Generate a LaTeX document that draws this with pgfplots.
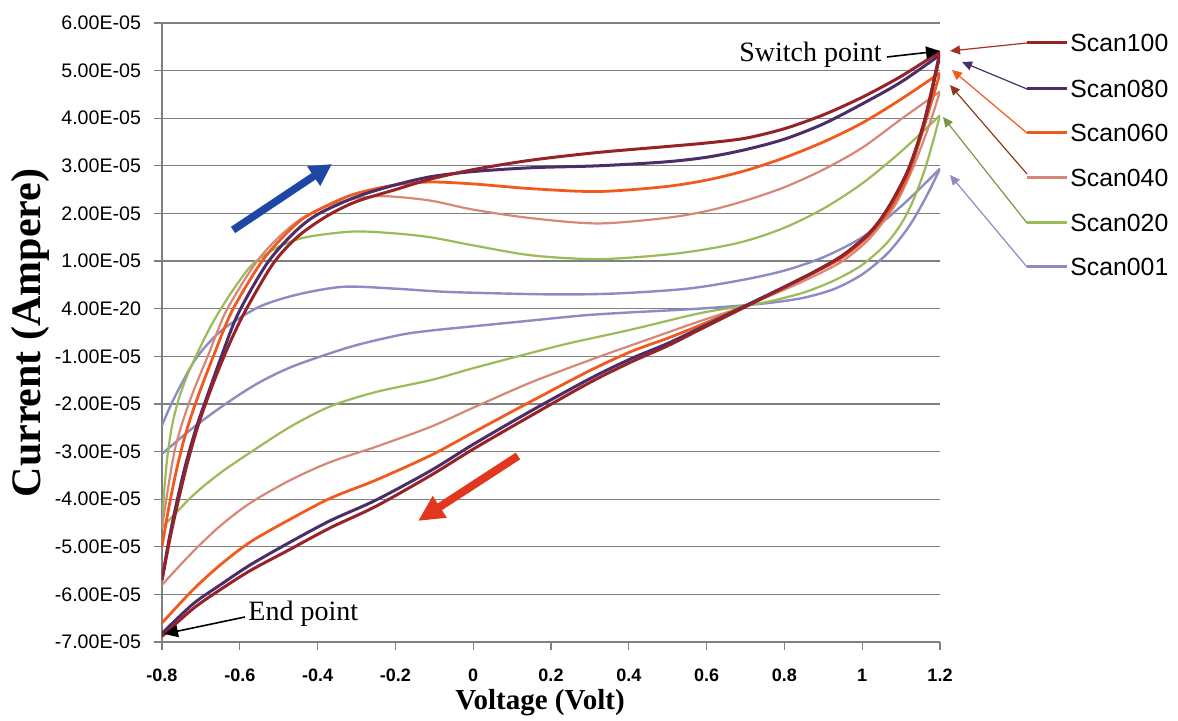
\documentclass[border=0pt]{standalone}
\usepackage{fontspec}
\setmainfont{Liberation Serif}
\newfontfamily\arial{Liberation Sans}
\usepackage{pgfplots}
\pgfplotsset{compat=1.18}
\usetikzlibrary{arrows.meta}

\definecolor{c100}{RGB}{150,35,40}
\definecolor{c080}{RGB}{75,45,105}
\definecolor{c060}{RGB}{240,90,30}
\definecolor{c040}{RGB}{215,135,120}
\definecolor{c020}{RGB}{155,187,89}
\definecolor{c001}{RGB}{140,140,195}
\definecolor{gridgray}{RGB}{128,128,128}
\definecolor{bluearrow}{RGB}{30,70,165}
\definecolor{redarrow}{RGB}{225,55,30}
\definecolor{brownarrow}{RGB}{140,60,30}

\begin{document}
\begin{tikzpicture}
\path[use as bounding box] (-81pt,-39.5pt) rectangle (508pt,321pt);
\begin{axis}[
  at={(0,0)}, anchor=south west,
  scale only axis, width=389pt, height=309.5pt,
  xmin=-0.8, xmax=1.2, ymin=-7e-5, ymax=6e-5,
  axis x line*=bottom, axis y line*=left,
  axis line style={gridgray, line width=0.6pt},
  xtick={-0.8,-0.6,-0.4,-0.2,0,0.2,0.4,0.6,0.8,1,1.2},
  xticklabels={-0.8,-0.6,-0.4,-0.2,0,0.2,0.4,0.6,0.8,1,1.2},
  ytick={-7e-5,-6e-5,-5e-5,-4e-5,-3e-5,-2e-5,-1e-5,0,1e-5,2e-5,3e-5,4e-5,5e-5,6e-5},
  yticklabels={-7.00E-05,-6.00E-05,-5.00E-05,-4.00E-05,-3.00E-05,-2.00E-05,-1.00E-05,4.00E-20,1.00E-05,2.00E-05,3.00E-05,4.00E-05,5.00E-05,6.00E-05},
  scaled y ticks=false,
  ymajorgrids, grid style={gridgray, line width=0.6pt},
  tick align=outside, major tick length=4pt,
  tick style={gridgray, line width=0.6pt},
  xticklabel style={font=\arial\bfseries\fontsize{9}{10}\selectfont, yshift=-6pt},
  yticklabel style={font=\arial\fontsize{9.8}{11}\selectfont, xshift=-3pt},
]
% Scan001: forward sweep, then reverse sweep
\addplot[c001, line width=1.2pt, smooth] coordinates {
(-0.8,-2.45e-5) (-0.77,-1.9e-5) (-0.72,-1.14e-5) (-0.68,-0.72e-5) (-0.633,-0.37e-5)
(-0.547,0.05e-5) (-0.45,0.3e-5) (-0.333,0.46e-5) (-0.2,0.42e-5) (-0.06,0.35e-5)
(0.2,0.3e-5) (0.37,0.32e-5) (0.55,0.42e-5) (0.69,0.6e-5) (0.8,0.8e-5)
(0.9,1.08e-5) (1.0,1.5e-5) (1.1,2.15e-5) (1.2,2.94e-5)};
\addplot[c001, line width=1.2pt, smooth] coordinates {
(1.2,2.94e-5) (1.18,2.6e-5) (1.16,2.28e-5) (1.13,1.85e-5) (1.1,1.5e-5) (1.06,1.12e-5)
(1.0,0.72e-5) (0.93,0.42e-5) (0.85,0.23e-5) (0.76,0.12e-5) (0.65,0.04e-5)
(0.54,-0.02e-5) (0.4,-0.08e-5) (0.285,-0.14e-5) (0.148,-0.25e-5) (0.0,-0.37e-5)
(-0.109,-0.46e-5) (-0.187,-0.55e-5) (-0.315,-0.8e-5) (-0.46,-1.2e-5) (-0.55,-1.55e-5)
(-0.633,-1.98e-5) (-0.72,-2.5e-5) (-0.8,-3.05e-5)};
% Scan020
\addplot[c020, line width=1.1pt, smooth] coordinates {
(-0.8,-4.55e-5) (-0.794,-3.8e-5) (-0.786,-3.1e-5) (-0.774,-2.45e-5) (-0.757,-1.9e-5)
(-0.735,-1.4e-5) (-0.71,-0.95e-5) (-0.68,-0.45e-5) (-0.65,-0.02e-5) (-0.61,0.48e-5)
(-0.565,0.95e-5) (-0.5,1.3e-5) (-0.43,1.5e-5) (-0.31,1.62e-5) (-0.2,1.58e-5)
(-0.11,1.5e-5) (0.0,1.33e-5) (0.15,1.12e-5) (0.32,1.04e-5) (0.49,1.13e-5)
(0.6,1.25e-5) (0.7,1.42e-5) (0.8,1.7e-5) (0.9,2.1e-5) (1.0,2.63e-5) (1.1,3.3e-5) (1.2,4.06e-5)};
\addplot[c020, line width=1.1pt, smooth] coordinates {
(1.2,4.06e-5) (1.18,3.45e-5) (1.16,2.9e-5) (1.13,2.25e-5) (1.1,1.78e-5) (1.06,1.35e-5)
(1.0,0.92e-5) (0.93,0.6e-5) (0.85,0.34e-5) (0.76,0.15e-5) (0.69,0.05e-5)
(0.58,-0.1e-5) (0.406,-0.44e-5) (0.25,-0.72e-5) (0.148,-0.93e-5) (0.0,-1.25e-5)
(-0.109,-1.5e-5) (-0.25,-1.75e-5) (-0.367,-2.05e-5) (-0.47,-2.48e-5) (-0.573,-3.02e-5)
(-0.65,-3.45e-5) (-0.72,-3.92e-5) (-0.8,-4.6e-5)};
% Scan040
\addplot[c040, line width=1.1pt, smooth] coordinates {
(-0.8,-4.6e-5) (-0.785,-3.8e-5) (-0.768,-3.0e-5) (-0.748,-2.4e-5) (-0.72,-1.75e-5)
(-0.68,-0.95e-5) (-0.635,-0.05e-5) (-0.56,0.95e-5) (-0.5,1.5e-5) (-0.44,1.9e-5)
(-0.367,2.18e-5) (-0.29,2.33e-5) (-0.22,2.36e-5) (-0.11,2.27e-5) (0.0,2.08e-5)
(0.15,1.9e-5) (0.32,1.79e-5) (0.49,1.9e-5) (0.6,2.05e-5) (0.7,2.27e-5)
(0.8,2.55e-5) (0.9,2.92e-5) (1.0,3.38e-5) (1.1,3.98e-5) (1.2,4.56e-5)};
\addplot[c040, line width=1.1pt, smooth] coordinates {
(1.2,4.56e-5) (1.17,3.8e-5) (1.13,2.95e-5) (1.09,2.25e-5) (1.05,1.78e-5) (1.01,1.4e-5)
(0.95,1.0e-5) (0.88,0.7e-5) (0.8,0.4e-5) (0.69,0.03e-5) (0.58,-0.27e-5)
(0.5,-0.5e-5) (0.406,-0.77e-5) (0.3,-1.08e-5) (0.148,-1.55e-5) (0.0,-2.08e-5)
(-0.109,-2.48e-5) (-0.25,-2.9e-5) (-0.367,-3.22e-5) (-0.47,-3.6e-5) (-0.573,-4.08e-5)
(-0.65,-4.56e-5) (-0.72,-5.1e-5) (-0.8,-5.8e-5)};
% Scan060
\addplot[c060, line width=1.4pt, smooth] coordinates {
(-0.8,-5.0e-5) (-0.783,-4.2e-5) (-0.763,-3.4e-5) (-0.74,-2.65e-5) (-0.71,-1.9e-5)
(-0.668,-1.0e-5) (-0.62,-0.05e-5) (-0.547,0.95e-5) (-0.49,1.5e-5) (-0.436,1.9e-5)
(-0.367,2.2e-5) (-0.3,2.42e-5) (-0.2,2.6e-5) (-0.11,2.66e-5) (0.0,2.62e-5)
(0.15,2.52e-5) (0.32,2.46e-5) (0.49,2.56e-5) (0.6,2.7e-5) (0.7,2.9e-5)
(0.8,3.17e-5) (0.9,3.5e-5) (1.0,3.9e-5) (1.1,4.4e-5) (1.2,4.95e-5)};
\addplot[c060, line width=1.4pt, smooth] coordinates {
(1.2,4.95e-5) (1.16,3.85e-5) (1.12,2.85e-5) (1.08,2.2e-5) (1.045,1.8e-5) (1.01,1.48e-5)
(0.95,1.08e-5) (0.88,0.77e-5) (0.8,0.45e-5) (0.69,0.03e-5) (0.58,-0.36e-5)
(0.5,-0.62e-5) (0.406,-0.9e-5) (0.3,-1.3e-5) (0.148,-1.95e-5) (0.0,-2.6e-5)
(-0.109,-3.08e-5) (-0.25,-3.6e-5) (-0.367,-3.98e-5) (-0.47,-4.42e-5) (-0.573,-4.9e-5)
(-0.65,-5.38e-5) (-0.72,-5.9e-5) (-0.8,-6.6e-5)};
% Scan080
\addplot[c080, line width=1.5pt, smooth] coordinates {
(-0.8,-5.7e-5) (-0.782,-4.85e-5) (-0.763,-4.1e-5) (-0.74,-3.3e-5) (-0.712,-2.5e-5)
(-0.68,-1.75e-5) (-0.645,-0.95e-5) (-0.604,-0.1e-5) (-0.53,0.95e-5) (-0.46,1.6e-5)
(-0.4,1.98e-5) (-0.3,2.35e-5) (-0.2,2.6e-5) (-0.11,2.77e-5) (0.0,2.88e-5)
(0.15,2.96e-5) (0.32,3.0e-5) (0.49,3.08e-5) (0.6,3.18e-5) (0.7,3.34e-5)
(0.8,3.56e-5) (0.9,3.88e-5) (1.0,4.3e-5) (1.1,4.76e-5) (1.2,5.33e-5)};
\addplot[c080, line width=1.5pt, smooth] coordinates {
(1.2,5.33e-5) (1.16,3.93e-5) (1.12,2.95e-5) (1.08,2.3e-5) (1.045,1.85e-5) (1.01,1.52e-5)
(0.95,1.12e-5) (0.88,0.79e-5) (0.8,0.46e-5) (0.69,0.02e-5) (0.58,-0.42e-5)
(0.5,-0.73e-5) (0.406,-1.05e-5) (0.3,-1.47e-5) (0.148,-2.15e-5) (0.0,-2.85e-5)
(-0.109,-3.4e-5) (-0.25,-4.02e-5) (-0.367,-4.45e-5) (-0.47,-4.9e-5) (-0.573,-5.38e-5)
(-0.65,-5.8e-5) (-0.72,-6.2e-5) (-0.8,-6.82e-5)};
% Scan100
\addplot[c100, line width=1.5pt, smooth] coordinates {
(-0.8,-5.7e-5) (-0.78,-4.85e-5) (-0.76,-4.1e-5) (-0.735,-3.25e-5) (-0.705,-2.4e-5)
(-0.67,-1.6e-5) (-0.63,-0.8e-5) (-0.586,-0.05e-5) (-0.514,0.95e-5) (-0.45,1.52e-5)
(-0.375,1.95e-5) (-0.3,2.25e-5) (-0.2,2.5e-5) (-0.11,2.72e-5) (0.0,2.92e-5)
(0.15,3.12e-5) (0.32,3.28e-5) (0.49,3.4e-5) (0.6,3.48e-5) (0.7,3.58e-5)
(0.8,3.78e-5) (0.9,4.07e-5) (1.0,4.44e-5) (1.1,4.88e-5) (1.2,5.4e-5)};
\addplot[c100, line width=1.5pt, smooth] coordinates {
(1.2,5.4e-5) (1.16,3.95e-5) (1.12,2.95e-5) (1.08,2.3e-5) (1.045,1.85e-5) (1.01,1.52e-5)
(0.95,1.12e-5) (0.88,0.78e-5) (0.8,0.45e-5) (0.69,0.0) (0.58,-0.45e-5)
(0.5,-0.78e-5) (0.406,-1.12e-5) (0.3,-1.55e-5) (0.148,-2.25e-5) (0.0,-2.95e-5)
(-0.109,-3.5e-5) (-0.25,-4.15e-5) (-0.367,-4.6e-5) (-0.47,-5.05e-5) (-0.573,-5.5e-5)
(-0.65,-5.9e-5) (-0.72,-6.3e-5) (-0.8,-6.88e-5)};
\end{axis}

% annotations, laid out on a 0.5pt grid whose origin is the top left corner
\begin{scope}[x=0.5pt, y=-0.5pt, shift={(-81pt,321pt)}]
  % scan direction arrows
  \draw[bluearrow, line width=3.8pt, -{Triangle[length=11pt,width=11pt]}] (233,230) -- (332,164);
  \draw[redarrow, line width=4pt, -{Triangle[length=13pt,width=12pt]}] (518,456) -- (418,521);
  % axis titles
  \node[rotate=90, font=\bfseries\fontsize{21}{24}\selectfont] at (30,333) {Current (Ampere)};
  \node[font=\bfseries\fontsize{14.5}{17}\selectfont] at (540,703) {Voltage (Volt)};
  % switch and end point
  \node[anchor=east, font=\fontsize{14}{16}\selectfont, inner sep=1pt] at (884,55) {Switch point};
  \draw[black, line width=0.8pt, -{Triangle[length=7pt,width=6pt]}] (887,57) -- (940,51);
  \node[anchor=west, font=\fontsize{14}{16}\selectfont, inner sep=1pt] at (246,614) {End point};
  \draw[black, line width=0.8pt, -{Triangle[length=7pt,width=6pt]}] (245,617) -- (164,634);
  % legend
  \begin{scope}[font=\arial\fontsize{12.4}{14}\selectfont]
    \draw[c100, line width=1.5pt] (1027,43) -- (1067,43);
    \node[anchor=west, inner sep=1pt] at (1068,43) {Scan100};
    \draw[c100!85!orange, line width=0.6pt, -{Triangle[length=5pt,width=4.5pt]}] (1027,43) -- (950,51);
    \draw[c080, line width=1.5pt] (1027,89) -- (1067,89);
    \node[anchor=west, inner sep=1pt] at (1068,89) {Scan080};
    \draw[c080, line width=0.6pt, -{Triangle[length=5pt,width=4.5pt]}] (1027,89) -- (962,62);
    \draw[c060, line width=1.5pt] (1027,133) -- (1067,133);
    \node[anchor=west, inner sep=1pt] at (1068,133) {Scan060};
    \draw[c060, line width=0.6pt, -{Triangle[length=5pt,width=4.5pt]}] (1027,133) -- (952,70);
    \draw[c040, line width=1.5pt] (1027,178) -- (1067,178);
    \node[anchor=west, inner sep=1pt] at (1068,178) {Scan040};
    \draw[brownarrow, line width=0.6pt, -{Triangle[length=5pt,width=4.5pt]}] (1027,174) -- (950,85);
    \draw[c020, line width=1.5pt] (1027,223) -- (1067,223);
    \node[anchor=west, inner sep=1pt] at (1068,223) {Scan020};
    \draw[c020!80!black, line width=0.6pt, -{Triangle[length=5pt,width=4.5pt]}] (1027,223) -- (943,117);
    \draw[c001, line width=1.5pt] (1027,267) -- (1067,267);
    \node[anchor=west, inner sep=1pt] at (1068,267) {Scan001};
    \draw[c001, line width=0.6pt, -{Triangle[length=5pt,width=4.5pt]}] (1027,267) -- (950,175);
  \end{scope}
\end{scope}
\end{tikzpicture}
\end{document}
